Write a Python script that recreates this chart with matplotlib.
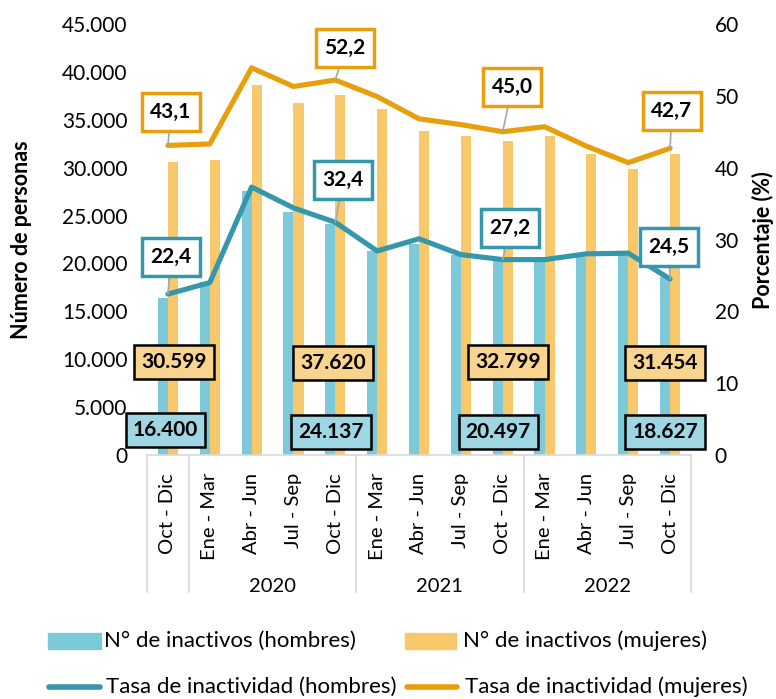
import matplotlib
matplotlib.use("Agg")
import matplotlib.pyplot as plt
from matplotlib.lines import Line2D
from matplotlib.patches import Rectangle
from matplotlib.ticker import FuncFormatter

plt.rcParams['font.family'] = ['Lato', 'DejaVu Sans']

# ---------------- data ----------------
quarters = ["Oct - Dic", "Ene - Mar", "Abr - Jun", "Jul - Sep", "Oct - Dic",
            "Ene - Mar", "Abr - Jun", "Jul - Sep", "Oct - Dic",
            "Ene - Mar", "Abr - Jun", "Jul - Sep", "Oct - Dic"]
years = ["2020", "2021", "2022"]
year_spans = [(1, 4), (5, 8), (9, 12)]

inact_hombres = [16400, 18060, 27560, 25370, 24137, 21300, 22030, 20880, 20497,
                 20460, 20670, 20880, 18627]
inact_mujeres = [30599, 30800, 38630, 36750, 37620, 36120, 33830, 33310, 32799,
                 33310, 31430, 29860, 31454]
tasa_hombres = [22.4, 24.0, 37.3, 34.4, 32.4, 28.4, 30.1, 27.9, 27.2, 27.2, 28.0, 28.1, 24.5]
tasa_mujeres = [43.1, 43.3, 53.9, 51.3, 52.2, 49.9, 46.8, 46.0, 45.0, 45.7, 43.0, 40.7, 42.7]
label_idx = [0, 4, 8, 12]

# ---------------- style ----------------
C_BLUE_BAR = "#7DC9DA"
C_ORANGE_BAR = "#F8C96B"
C_BLUE_LINE = "#3497AA"
C_ORANGE_LINE = "#E99E0C"
C_BLUE_BOX = "#9ED7E3"
C_ORANGE_BOX = "#F9D48F"
C_GRID = "#D9D9D9"

W, H = 776, 699
fig = plt.figure(figsize=(W / 100, H / 100), dpi=100)
x0, x1, y0, y1 = 147, 691, 24, 455   # plot area in pixels (top-left origin)
ax = fig.add_axes([x0 / W, (H - y1) / H, (x1 - x0) / W, (y1 - y0) / H])
ax2 = ax.twinx()

n = len(quarters)
xs = list(range(n))
bw = 0.24
ax.bar([x - bw / 2 for x in xs], inact_hombres, width=bw, color=C_BLUE_BAR, zorder=2)
ax.bar([x + bw / 2 for x in xs], inact_mujeres, width=bw, color=C_ORANGE_BAR, zorder=2)

ax.set_xlim(-0.5, n - 0.5)
ax.set_ylim(0, 45000)
ax.set_yticks(range(0, 45001, 5000))
ax.yaxis.set_major_formatter(FuncFormatter(lambda v, p: "0" if v == 0 else f"{int(v):,}".replace(",", ".")))
ax2.set_ylim(0, 60)
ax2.set_yticks(range(0, 61, 10))

for a in (ax, ax2):
    for s in ("top", "left", "right"):
        a.spines[s].set_visible(False)
    a.tick_params(axis="y", length=0, labelsize=15, colors="#000000")
ax.spines["bottom"].set_color(C_GRID)
ax.spines["bottom"].set_linewidth(1.2)
ax2.spines["bottom"].set_visible(False)
ax.tick_params(axis="y", pad=14)
ax2.tick_params(axis="y", pad=17)

ax.set_xticks(xs)
ax.set_xticklabels(quarters, rotation=90, fontsize=14.5, va="top", ha="center")
ax.tick_params(axis="x", length=0, pad=13)

fig.text(22 / W, (H - 240) / H, "Número de personas", fontsize=15.5, fontweight="bold",
         rotation=90, ha="center", va="center")
fig.text(763 / W, (H - 240) / H, "Porcentaje (%)", fontsize=15.5, fontweight="bold",
         rotation=90, ha="center", va="center")

ax2.plot(xs, tasa_hombres, color=C_BLUE_LINE, lw=3.7, solid_capstyle="round", zorder=3)
ax2.plot(xs, tasa_mujeres, color=C_ORANGE_LINE, lw=3.7, solid_capstyle="round", zorder=3)

# category separators and year labels
def cat_px(c):
    return x0 + (c + 0.5) * (x1 - x0) / n

sep_positions = [-0.5, 0.5, 4.5, 8.5, 12.5]
for s in sep_positions:
    px = x0 + (s + 0.5) * (x1 - x0) / n
    fig.add_artist(Line2D([px / W, px / W], [(H - 455) / H, (H - 592) / H],
                          color=C_GRID, lw=1.2))
for yr, (a, b) in zip(years, year_spans):
    px = (cat_px(a) + cat_px(b)) / 2
    fig.text(px / W, (H - 587) / H, yr, fontsize=14.5, ha="center", va="center")

# rate labels
rate_m_pos = [(171, 112), (345, 48), (512, 87), (672, 111)]
rate_h_pos = [(171, 257), (343, 180), (510, 228), (669, 247)]
for i, (px, py) in zip(label_idx, rate_m_pos):
    ax2.annotate(f"{tasa_mujeres[i]:.1f}".replace(".", ","), xy=(i, tasa_mujeres[i]),
                 xytext=(px, H - py), textcoords="figure pixels",
                 ha="center", va="center", fontsize=15, fontweight="bold", zorder=6,
                 bbox=dict(boxstyle="square,pad=0.42", fc="white", ec=C_ORANGE_LINE, lw=2.5),
                 arrowprops=dict(arrowstyle="-", color="#A6A6A6", lw=1.2, shrinkA=0, shrinkB=0))
for i, (px, py) in zip(label_idx, rate_h_pos):
    ax2.annotate(f"{tasa_hombres[i]:.1f}".replace(".", ","), xy=(i, tasa_hombres[i]),
                 xytext=(px, H - py), textcoords="figure pixels",
                 ha="center", va="center", fontsize=15, fontweight="bold", zorder=6,
                 bbox=dict(boxstyle="square,pad=0.42", fc="white", ec=C_BLUE_LINE, lw=2.5),
                 arrowprops=dict(arrowstyle="-", color="#A6A6A6", lw=1.2, shrinkA=0, shrinkB=0))

# bar value labels
bar_m_pos = [(174, 362), (333, 363), (508, 362), (665, 363)]
bar_h_pos = [(165, 430), (331, 432), (498, 432), (665, 432)]
for i, (px, py) in zip(label_idx, bar_m_pos):
    fig.text(px / W, (H - py) / H, f"{inact_mujeres[i]:,}".replace(",", "."),
             ha="center", va="center", fontsize=15, fontweight="bold", zorder=6,
             bbox=dict(boxstyle="square,pad=0.33", fc=C_ORANGE_BOX, ec="black", lw=1.8))
for i, (px, py) in zip(label_idx, bar_h_pos):
    fig.text(px / W, (H - py) / H, f"{inact_hombres[i]:,}".replace(",", "."),
             ha="center", va="center", fontsize=15, fontweight="bold", zorder=6,
             bbox=dict(boxstyle="square,pad=0.33", fc=C_BLUE_BOX, ec="black", lw=1.8))

# legend (manual)
def leg_patch(xa, xb, yc, color):
    fig.add_artist(Rectangle((xa / W, (H - yc - 8) / H), (xb - xa) / W, 16 / H,
                             color=color, transform=fig.transFigure))

def leg_line(xa, xb, yc, color):
    fig.add_artist(Line2D([xa / W, xb / W], [(H - yc) / H, (H - yc) / H],
                          color=color, lw=4.0, solid_capstyle="round"))

leg_patch(48, 101, 641, C_BLUE_BAR)
fig.text(104 / W, (H - 641) / H, "N° de inactivos (hombres)", fontsize=16, va="center")
leg_patch(405, 456, 641, C_ORANGE_BAR)
fig.text(463 / W, (H - 641) / H, "N° de inactivos (mujeres)", fontsize=16, va="center")
leg_line(49, 100, 687, C_BLUE_LINE)
fig.text(106 / W, (H - 687) / H, "Tasa de inactividad (hombres)", fontsize=16, va="center")
leg_line(407, 457, 687, C_ORANGE_LINE)
fig.text(465 / W, (H - 687) / H, "Tasa de inactividad (mujeres)", fontsize=16, va="center")

fig.savefig("out.png", dpi=100)
